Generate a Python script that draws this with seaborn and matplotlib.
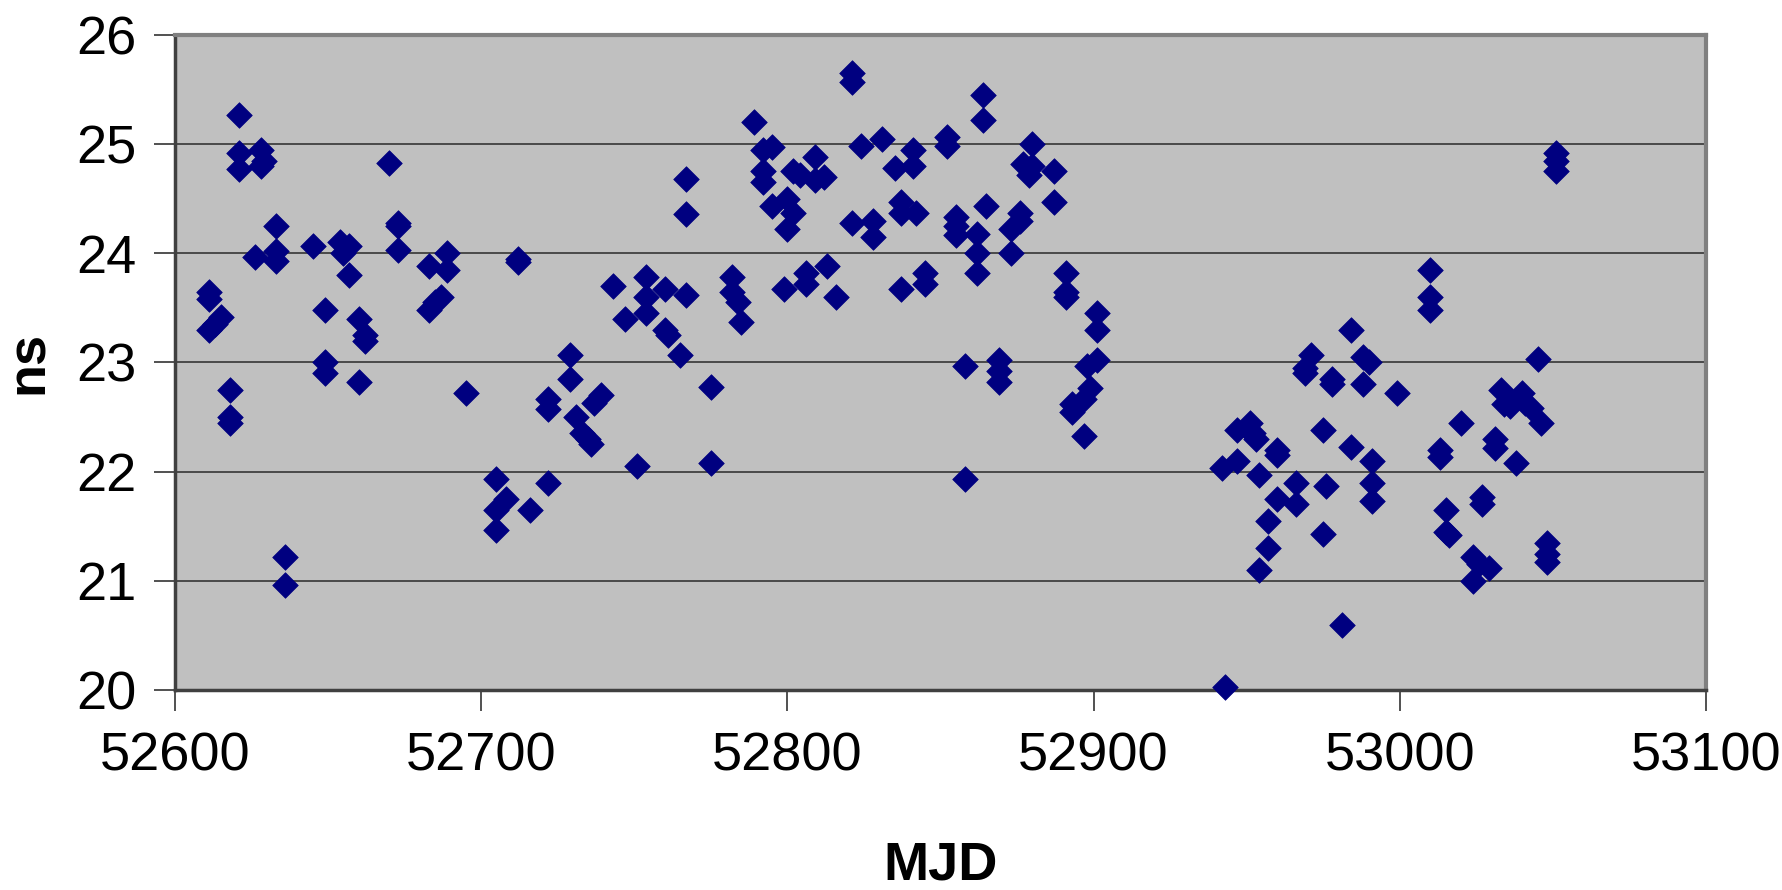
import matplotlib
matplotlib.use("Agg")
import matplotlib.pyplot as plt
import seaborn as sns
import pandas as pd

mjd = [52611, 52611, 52611, 52613, 52615, 52618, 52618, 52618, 52621, 52621, 52621,
       52626, 52628, 52628, 52629, 52633, 52633, 52633, 52636, 52636, 52645, 52649,
       52649, 52649, 52654, 52655, 52657, 52657, 52660, 52660, 52662, 52662, 52670,
       52673, 52673, 52673, 52683, 52683, 52685, 52687, 52689, 52689, 52695, 52705,
       52705, 52705, 52708, 52712, 52712, 52716, 52722, 52722, 52722, 52729, 52729,
       52731, 52733, 52735, 52736, 52737, 52739, 52743, 52747, 52751, 52754, 52754,
       52754, 52760, 52760, 52761, 52765, 52767, 52767, 52767, 52775, 52775, 52782,
       52782, 52784, 52785, 52789, 52792, 52792, 52792, 52795, 52795, 52799, 52800,
       52800, 52802, 52802, 52804, 52806, 52806, 52809, 52809, 52812, 52813, 52816,
       52821, 52821, 52821, 52824, 52828, 52828, 52831, 52835, 52837, 52837, 52837,
       52841, 52841, 52842, 52845, 52845, 52852, 52852, 52855, 52855, 52855, 52858,
       52858, 52862, 52862, 52862, 52864, 52864, 52865, 52869, 52869, 52869, 52873,
       52873, 52876, 52876, 52877, 52879, 52880, 52880, 52887, 52887, 52891, 52891,
       52891, 52893, 52893, 52897, 52897, 52898, 52899, 52901, 52901, 52901,
       52943, 52942, 52947, 52947, 52950, 52951, 52952, 52953, 52954, 52954, 52957,
       52957, 52960, 52960, 52960, 52966, 52966, 52969, 52969, 52971, 52975, 52975,
       52976, 52978, 52978, 52981, 52984, 52984, 52988, 52988, 52990, 52991, 52991,
       52991, 52999, 53010, 53010, 53010, 53013, 53013, 53015, 53015, 53016, 53020,
       53024, 53024, 53026, 53027, 53027, 53029, 53031, 53031, 53033, 53034, 53036,
       53038, 53040, 53041, 53043, 53045, 53046, 53048, 53048, 53048, 53051, 53051,
       53051]

ns = [23.65, 23.58, 23.30, 23.35, 23.42, 22.75, 22.50, 22.45, 25.27, 24.92, 24.77,
      23.97, 24.95, 24.80, 24.85, 24.25, 24.02, 23.93, 21.22, 20.96, 24.07, 23.48,
      23.00, 22.90, 24.10, 24.00, 24.07, 23.80, 23.40, 22.82, 23.25, 23.20, 24.83,
      24.28, 24.25, 24.03, 23.88, 23.48, 23.55, 23.60, 24.00, 23.85, 22.72, 21.93,
      21.65, 21.47, 21.75, 23.95, 23.92, 21.65, 22.67, 22.57, 21.90, 23.07, 22.85,
      22.50, 22.35, 22.30, 22.25, 22.63, 22.70, 23.70, 23.40, 22.05, 23.78, 23.60,
      23.45, 23.67, 23.30, 23.25, 23.07, 24.68, 24.36, 23.62, 22.78, 22.08, 23.78,
      23.65, 23.55, 23.37, 25.20, 24.95, 24.75, 24.65, 24.97, 24.43, 23.67, 24.50,
      24.22, 24.75, 24.37, 24.72, 23.72, 23.82, 24.88, 24.67, 24.70, 23.88, 23.60,
      25.65, 25.57, 24.28, 24.98, 24.30, 24.15, 25.05, 24.78, 24.47, 24.37, 23.67,
      24.95, 24.80, 24.37, 23.82, 23.72, 25.07, 24.98, 24.33, 24.25, 24.17, 22.97,
      21.93, 24.18, 24.00, 23.82, 25.45, 25.22, 24.43, 23.02, 22.92, 22.82, 24.22,
      24.00, 24.37, 24.30, 24.82, 24.72, 25.00, 24.80, 24.75, 24.47, 23.82, 23.65,
      23.60, 22.62, 22.55, 22.67, 22.33, 22.97, 22.77, 23.45, 23.30, 23.02,
      20.03, 22.03, 22.38, 22.10, 22.40, 22.45, 22.35, 22.30, 21.97, 21.10, 21.55,
      21.30, 22.20, 22.15, 21.75, 21.90, 21.70, 22.95, 22.90, 23.07, 22.38, 21.43,
      21.87, 22.85, 22.80, 20.60, 23.30, 22.23, 23.05, 22.80, 23.00, 22.10, 21.90,
      21.73, 22.72, 23.85, 23.60, 23.48, 22.20, 22.13, 21.65, 21.45, 21.42, 22.45,
      21.22, 21.00, 21.15, 21.77, 21.70, 21.12, 22.30, 22.22, 22.75, 22.62, 22.60,
      22.08, 22.72, 22.63, 22.58, 23.03, 22.45, 21.35, 21.25, 21.17, 24.92, 24.85,
      24.75]

x_ticks = [52600, 52700, 52800, 52900, 53000, 53100]
y_ticks = [20, 21, 22, 23, 24, 25, 26]

df = pd.DataFrame({"MJD": mjd, "ns": ns})

sns.set_style("white")
plt.rcParams["font.family"] = ["Liberation Sans", "DejaVu Sans"]
plt.rcParams["text.color"] = "black"
plt.rcParams["axes.labelcolor"] = "black"
plt.rcParams["xtick.color"] = "black"
plt.rcParams["ytick.color"] = "black"

fig = plt.figure(figsize=(17.83, 8.90), dpi=100)
ax = fig.add_axes([0.0981, 0.2247, 0.8587, 0.736])
ax.set_facecolor("#C0C0C0")

sns.scatterplot(data=df, x="MJD", y="ns", ax=ax, marker="D", s=170,
                color="#000080", edgecolor="#000080", linewidth=0.5, zorder=3,
                clip_on=False)

ax.set_xlim(52600, 53100)
ax.set_ylim(20, 26)
ax.set_xticks(x_ticks)
ax.set_yticks(y_ticks)
ax.set_xticklabels([str(t) for t in x_ticks], fontsize=39, color="black")
ax.set_yticklabels([str(t) for t in y_ticks], fontsize=39, color="black")
ax.yaxis.grid(True, color="#404040", linewidth=1.3, zorder=1)
ax.xaxis.grid(False)
ax.set_axisbelow(True)

ax.tick_params(axis="both", direction="out", length=15, width=1.2, color="#333333",
               left=True, bottom=True, pad=13)
ax.tick_params(axis="x", pad=15)

for side in ["top", "right"]:
    ax.spines[side].set_color("#808080")
    ax.spines[side].set_linewidth(3)
for side in ["left", "bottom"]:
    ax.spines[side].set_color("#404040")
    ax.spines[side].set_linewidth(2.5)

ax.set_xlabel("MJD", fontsize=39, fontweight="bold", labelpad=42, color="black")
ax.set_ylabel("ns", fontsize=39, fontweight="bold", labelpad=16, color="black")

fig.savefig("out.png", dpi=100, facecolor="white")
